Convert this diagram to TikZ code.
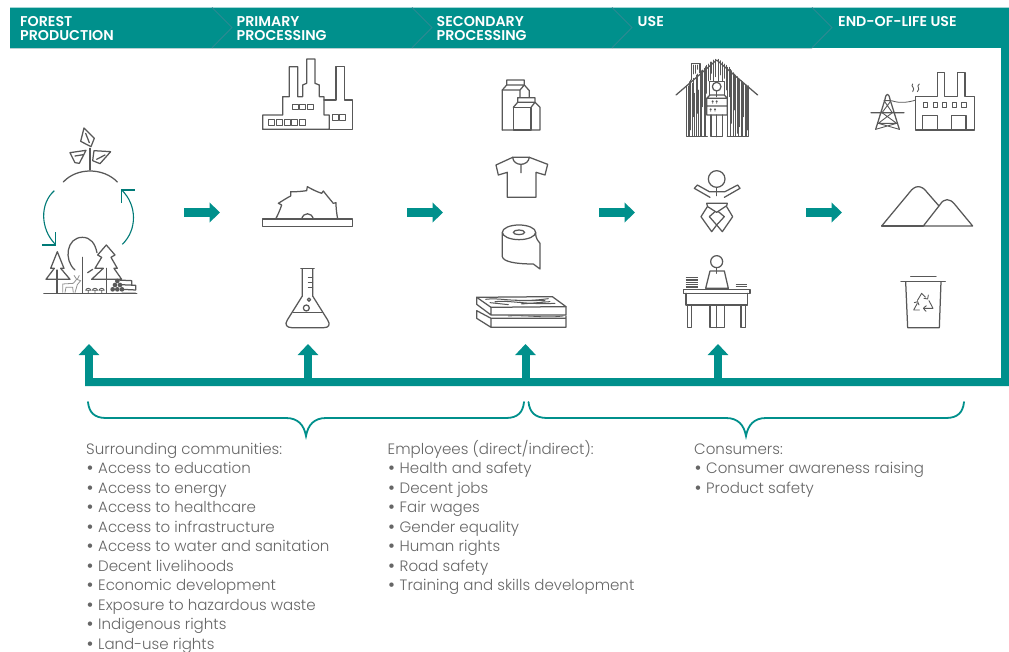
\documentclass[tikz,border=0pt]{standalone}
\usepackage{fontspec}
\setmainfont{Poppins Light}
\newfontfamily\headf{Poppins SemiBold}
\usetikzlibrary{arrows.meta}
\definecolor{teal0}{HTML}{00908C}
\definecolor{chev}{HTML}{2C8A92}
\definecolor{shad}{HTML}{B9CFD2}
\definecolor{ink}{HTML}{585858}
\definecolor{txt}{HTML}{666666}
\tikzset{
 icon/.style={draw=ink,line width=1.25pt,line join=round,line cap=round,fill=none},
 thin icon/.style={draw=ink,line width=.75pt,line cap=round},
 pale icon/.style={draw=ink!65,line width=.8pt,line join=round},
 z/.style={shift={(#1)},x=.3333pt,y=-.3333pt},
 flowarrow/.style={draw=teal0,line width=8.4pt,-{Triangle[width=19.5pt,length=10.5pt]}},
 upstem/.style={draw=teal0,line width=8pt,-{Triangle[width=20pt,length=11pt]}},
 brace/.style={draw=teal0,line width=1.8pt,line cap=round},
 cycle arc/.style={draw=teal0!85!black,line width=1.1pt},
 head/.style={anchor=base west,inner sep=0,text=white,font=\headf\fontsize{14.2}{14}\selectfont},
 body/.style={anchor=north west,inner sep=0,text=txt,align=left,font=\fontsize{15.05}{19.5}\selectfont},
}
\newcommand{\bl}{\makebox[12pt][l]{\hspace{.3pt}\raisebox{-.9pt}{\fontsize{19}{19}\selectfont •}}}
\newcommand{\fl}{\rule{0pt}{15pt}}
\begin{document}
\begin{tikzpicture}[x=1pt,y=-1pt]
\useasboundingbox (0,0) rectangle (1009,651);
\fill[white] (0,0) rectangle (1009,651);
% shadow and band
\draw[shad,line width=1.2pt] (10,48.6) -- (812,48.6);
\fill[teal0] (10,7.5) -- (1009,7.5) -- (1009,386) -- (85,386) -- (85,378) -- (1001,378) -- (1001,47.8) -- (10,47.8) -- cycle;
\foreach \x in {212,412,612,812}
  \draw[chev,line width=1pt] (\x,7.5) -- (\x+20,27.5) -- (\x,47.8);
% headers
\node[head] (h1a) at (20,26) {FOREST};
\node[head] (h1b) at (20,40) {PRODUCTION};
\node[head] (h2a) at (236.5,26) {PRIMARY};
\node[head] (h2b) at (236.5,40) {PROCESSING};
\node[head] (h3a) at (436.5,26) {SECONDARY};
\node[head] (h3b) at (436.5,40) {PROCESSING};
\node[head] (h4) at (637.5,26) {USE};
\node[head] (h5) at (838,26) {END-OF-LIFE USE};
% flow arrows
\foreach \n/\a in {a/184,b/407,c/599,d/806}{
  \coordinate (f\n s) at (\a,212.5);
  \coordinate (f\n e) at (\a+36,212.5);
  \draw[flowarrow] (f\n s) -- (f\n e);
}
% up arrows
\foreach \n/\a in {a/89,b/308,c/525.5,d/718}{
  \coordinate (u\n s) at (\a,380);
  \coordinate (u\n e) at (\a,344);
  \draw[upstem] (u\n s) -- (u\n e);
}
% braces
\coordinate (b1l) at (88,402); \coordinate (b1m) at (306,436); \coordinate (b1r) at (524,402);
\coordinate (b2l) at (528.5,402); \coordinate (b2m) at (746,436); \coordinate (b2r) at (964,402);
\draw[brace] (b1l) .. controls (89,412) and (94,418) .. (106,418) -- (286,418) .. controls (298,418) and (304,425) .. (b1m) .. controls (308,425) and (314,418) .. (326,418) -- (506,418) .. controls (518,418) and (523,412) .. (b1r);
\draw[brace] (b2l) .. controls (529.5,412) and (535,418) .. (547,418) -- (726,418) .. controls (738,418) and (744,425) .. (b2m) .. controls (748,425) and (754,418) .. (766,418) -- (946,418) .. controls (958,418) and (963,412) .. (b2r);
% texts
\node[body] (t1) at (86,439) {\fl Surrounding communities:\\ \bl Access to education\\ \bl Access to energy\\ \bl Access to healthcare\\ \bl Access to infrastructure\\ \bl Access to water and sanitation\\ \bl Decent livelihoods\\ \bl Economic development\\ \bl Exposure to hazardous waste\\ \bl Indigenous rights\\ \bl Land-use rights};
\node[body] (t2) at (387.5,439) {\fl Employees (direct/indirect):\\ \bl Health and safety\\ \bl Decent jobs\\ \bl Fair wages\\ \bl Gender equality\\ \bl Human rights\\ \bl Road safety\\ \bl Training and skills development};
\node[body] (t3) at (694,439) {\fl Consumers:\\ \bl Consumer awareness raising\\ \bl Product safety};
% forest icon
\begin{scope}[z={20,120}]
 \draw[icon] (192,24) -- (223,55) -- (213,80) -- (182,64) -- cycle (197,40) -- (208,68);
 \draw[icon] (150,98) -- (198,91) -- (178,130) -- (165,128) -- cycle (165,108) -- (190,104);
 \draw[icon] (272,95) -- (222,92) -- (218,122) -- (240,131) -- cycle (230,118) -- (255,105);
 \draw[icon] (210,85) -- (210,150);
 \draw[icon] (130,186) .. controls (170,142) and (250,142) .. (292,186);
 \draw[cycle arc] (103,212) .. controls (60,250) and (60,325) .. (105,372);
 \draw[cycle arc] (66,375) -- (106,375) -- (106,335);
 \draw[cycle arc] (307,373) .. controls (352,330) and (352,255) .. (305,210);
 \draw[cycle arc] (345,210) -- (304,210) -- (304,250);
 \draw[icon,line width=1.6pt] (72,521) -- (350,521);
 % tree 1
 \draw[icon] (78,478) -- (103,445) -- (92,445) -- (112,395) -- (132,445) -- (122,445) -- (150,478) (78,478) -- (150,478);
 \draw[icon] (111,450) -- (111,520);
 % round tree
 \draw[icon] (165,450) .. controls (130,420) and (140,352) .. (187,352) .. controls (212,352) and (225,370) .. (231,398);
 \draw[icon] (187,412) -- (187,520);
 % tree 2
 \draw[icon] (203,458) -- (218,448) (215,478) -- (250,445) -- (225,445) -- (245,412) -- (233,405) -- (259,375) -- (285,405) -- (273,412) -- (292,445) -- (282,445) -- (305,478) -- (215,478);
 \draw[icon] (259,445) -- (259,520);
 % deer
 \draw[pale icon] (128,518) -- (128,492) -- (160,490) -- (170,478) -- (182,482) -- (172,494) -- (165,518) (135,518) -- (138,502) -- (158,502) -- (160,518) (170,478) -- (162,466) (172,478) -- (178,466);
 % mushrooms
 \foreach \p in {205,225,245}{
  \draw[icon,line width=.8pt] (\p-8,511) .. controls (\p-6,503) and (\p+6,503) .. (\p+8,511) -- cycle (\p,511) -- (\p,520);
 }
 % logs
 \foreach \p/\q in {278/508,292/508,285/495,300/495,292/483,306/508}
  \fill[ink] (\p,\q) circle (7);
 \draw[icon] (292,480) -- (335,482) -- (335,496) (300,494) -- (347,496) -- (347,510) (306,508) -- (347,510) (306,520) -- (347,520);
\end{scope}
% factory (primary)
\begin{scope}[z={0,0}]
 \draw[icon] (788,388) -- (788,345) -- (848,345) -- (848,290) -- (868,290) -- (868,200) -- (893,200) -- (893,290) -- (908,290) -- (908,255) -- (920,250) -- (920,177) -- (945,177) -- (945,250) -- (958,255) -- (958,290) -- (972,290) -- (972,345) -- (988,345) -- (988,388) -- cycle;
 \draw[icon] (972,300) -- (1008,300) -- (1008,200) -- (1033,200) -- (1033,300) -- (1057,300) -- (1057,388) -- (988,388);
 \foreach \p in {876,899,922} \draw[icon,line width=.8pt] (\p,312) rectangle (\p+18,328);
 \foreach \p in {806,829,852,875,898} \draw[icon,line width=.8pt] (\p,358) rectangle (\p+18,376);
 \foreach \p in {998,1018} \draw[icon,line width=.8pt] (\p,343) rectangle (\p+17,360);
\end{scope}
% saw and flask
\begin{scope}[z={240,170}]
 \draw[icon] (68,147) rectangle (337,170);
 \draw[icon] (107,147) .. controls (114,134) and (120,120) .. (125,105) -- (115,100) .. controls (128,92) and (140,84) .. (152,78) -- (152,65) .. controls (168,66) and (185,64) .. (200,62) -- (202,50) .. controls (216,58) and (230,65) .. (245,70) -- (250,63) .. controls (260,76) and (270,88) .. (280,100) -- (288,98) .. controls (288,114) and (290,130) .. (293,147);
 \draw[icon] (185,147) .. controls (190,126) and (215,126) .. (220,147);
 \draw[icon,line width=1.6pt] (183,296) -- (222,296);
 \draw[icon] (187,296) -- (187,378) -- (142,450) .. controls (132,465) and (142,473) .. (155,473) -- (252,473) .. controls (265,473) and (273,465) .. (263,450) -- (218,378) -- (218,296);
 \draw[icon] (160,428) -- (247,428);
 \draw[icon,line width=.8pt] (205,322) -- (218,322) (205,338) -- (218,338) (205,352) -- (218,352);
 \draw[icon] (199,414) circle (9) (207,389) circle (5);
\end{scope}
% secondary icons
\begin{scope}[z={465,70}]
 % cartons
 \draw[icon] (112,180) -- (112,60) -- (125,45) -- (125,30) -- (178,30) -- (178,45) -- (193,62) -- (193,82);
 \draw[icon] (112,60) -- (165,60) -- (178,45) -- (125,45) (165,60) -- (165,82);
 \draw[icon] (145,112) rectangle (198,180);
 \draw[icon] (145,112) -- (158,97) -- (158,83) -- (210,83) -- (210,97) -- (225,112) -- (225,180) -- (112,180);
 \draw[icon] (158,97) -- (210,97) -- (198,112);
 % shirt
 \draw[icon] (143,262) -- (93,285) -- (100,315) -- (127,307) -- (127,382) -- (213,382) -- (213,307) -- (240,315) -- (248,283) -- (193,262) -- cycle;
 \draw[icon] (143,262) .. controls (145,290) and (190,290) .. (193,262) (168,283) -- (168,308);
 % roll
 \draw[icon] (162,487) ellipse (50 and 22);
 \draw[icon] (162,487) ellipse (17 and 7);
 \draw[icon] (112,487) -- (112,560) .. controls (115,575) and (150,582) .. (205,582) -- (225,597) -- (225,520) .. controls (222,512) and (212,512) .. (212,487);
 % planks
 \draw[icon] (35,682) -- (262,680) -- (303,710) -- (78,712) -- cycle;
 \draw[icon] (35,682) -- (35,703) -- (78,735) -- (303,735) -- (303,710) (78,712) -- (78,735);
 \draw[icon] (35,722) -- (35,745) -- (78,772) -- (303,772) -- (303,738) (35,722) -- (78,745) -- (303,745) (78,745) -- (78,772);
 \draw[icon,line width=1pt] (62,688) .. controls (110,682) and (150,700) .. (250,686) (90,695) .. controls (130,690) and (190,705) .. (270,700) (75,698) -- (130,704) (150,690) .. controls (180,695) and (210,690) .. (240,692) (170,702) -- (255,695);
 \draw[icon,line width=.8pt] (130,738) .. controls (190,735) and (240,745) .. (295,738);
\end{scope}
% house
\begin{scope}[z={665,50}]
 \foreach \x/\a/\b in {69/108/258,73/95/258,77/90/240,81/100/258,85/85/200,89/130/258,93/75/258,97/72/190,101/120/258,105/66/258,109/62/258,113/60/170,117/55/258,121/50/258,125/46/130,
 130/42/92,135/36/90,140/36/70,146/30/95,152/28/80,160/28/92,166/32/75,172/36/95,178/42/85,183/46/120,
 188/52/258,192/52/140,196/58/258,200/62/220,204/68/258,208/72/180,212/75/258,216/80/250,220/85/258,224/88/230,228/92/258,232/95/258,236/100/200,240/104/258,244/108/258,247/110/240}
   \draw[thin icon] (\x,\a) -- (\x,\b);
 \draw[thin icon] (85,45) -- (85,72) (92,45) -- (92,70) (98,45) -- (98,58);
 \draw[icon] (33,135) -- (155,30) -- (278,135);
 \draw[icon] (65,108) -- (65,260) -- (127,260) (250,108) -- (250,260) -- (187,260);
 \draw[icon] (80,90) -- (80,40) -- (105,40) -- (105,68);
 \fill[white] (133,95) rectangle (178,135);
 \fill[white] (127,135) rectangle (187,259);
 \draw[icon] (133,95) -- (178,95) (133,95) -- (133,135) (178,95) -- (178,135);
 \draw[icon] (155,110) circle (13);
 \draw[icon] (155,123) -- (155,140);
 \draw[icon] (125,145) -- (135,135) -- (178,135) -- (187,145) -- (187,195) -- (125,195) -- cycle (125,168) -- (187,168) (125,145) -- (187,145);
 \draw[icon] (138,195) -- (138,260) -- (172,260) -- (172,195) (155,195) -- (155,260);
 \foreach \p/\q in {143/152,155/152,137/176,150/176}
   \draw[icon,line width=.8pt] (\p,\q) -- (\p,\q+8) (\p-2,\q+3) -- (\p,\q) -- (\p+2,\q+3);
\end{scope}
% baby and desk
\begin{scope}[z={665,165}]
 \draw[icon] (155,42) circle (25);
 \draw[icon] (155,67) -- (155,92);
 \draw[icon] (135,97) -- (88,70) -- (97,60) -- (133,80) -- (180,80) -- (218,60) -- (225,70) -- (178,97);
 \draw[icon] (125,115) -- (187,115) -- (185,122) -- (155,142) -- (128,125) -- cycle;
 \draw[icon] (127,125) -- (108,155) -- (140,200) -- (155,180) -- (133,155) -- (150,140);
 \draw[icon] (185,125) -- (203,155) -- (172,200) -- (155,180) -- (178,155) -- (160,140);
 \draw[icon] (155,290) circle (18);
 \draw[icon] (155,308) -- (155,325);
 \draw[icon] (135,318) -- (178,318) -- (190,370) -- (122,370) -- cycle;
 \draw[icon] (55,373) rectangle (255,385);
 \draw[icon] (63,385) -- (63,420) -- (247,420) -- (247,385);
 \draw[icon] (68,420) -- (68,488) -- (80,488) -- (80,420);
 \draw[icon] (228,420) -- (228,488) -- (242,488) -- (242,420);
 \draw[icon] (135,420) -- (135,488) -- (178,488) -- (178,420) (155,420) -- (155,488);
 \foreach \q in {338,345,352,359,366} \draw[icon,line width=1.3pt,line cap=butt] (62,\q) -- (98,\q);
 \foreach \q in {358,365} \draw[icon,line width=1.3pt,line cap=butt] (212,\q) -- (247,\q);
\end{scope}
% end of life
\begin{scope}[z={860,60}]
 \draw[icon] (167,210) -- (167,110) -- (232,110) -- (232,38) -- (254,38) -- (254,110) -- (293,110) -- (293,38) -- (315,38) -- (315,110) -- (343,110) -- (343,210) -- cycle;
 \foreach \p in {190,219,247,276,305} \draw[icon,line width=.9pt] (\p,127) rectangle (\p+13,141);
 \draw[icon] (188,210) -- (188,167) -- (232,167) -- (232,210) (275,210) -- (275,167) -- (318,167) -- (318,210);
 \draw[icon,line width=.9pt] (158,72) .. controls (150,80) and (168,82) .. (158,95) (178,72) .. controls (166,80) and (184,84) .. (172,95);
 \draw[icon,line width=.8pt] (95,122) .. controls (115,130) and (145,128) .. (167,120);
 \draw[icon] (47,208) -- (75,118) .. controls (78,98) and (86,98) .. (90,118) -- (118,208) (33,158) -- (132,158);
 \draw[icon,line width=.9pt] (72,122) -- (93,122) (72,122) -- (97,158) (93,122) -- (66,158) (66,158) -- (110,190) (97,158) -- (55,190) (55,190) -- (110,190) (110,190) -- (47,208) (55,190) -- (118,208);
 % mountains
 \draw[icon] (65,498) -- (148,398) .. controls (165,374) and (185,374) .. (202,398) -- (237,438);
 \draw[icon] (190,498) -- (240,434) .. controls (252,414) and (270,414) .. (285,434) -- (338,498) -- cycle;
 \draw[icon] (65,498) -- (190,498);
 % bin
 \draw[icon] (152,650) -- (228,650) (123,665) -- (256,665);
 \draw[icon] (137,665) -- (143,803) -- (238,803) -- (243,665);
 \draw[icon,line width=.9pt,line cap=butt] (172,722) -- (185,700) -- (197,712);
 \draw[icon,line width=.9pt] (192,715) -- (203,717) -- (205,705);
 \draw[icon,line width=.9pt] (207,722) -- (219,745) -- (192,745);
 \draw[icon,line width=.9pt] (199,737) -- (190,745) -- (198,754);
 \draw[icon,line width=.9pt] (178,750) -- (161,750) -- (172,730);
 \draw[icon,line width=.9pt] (163,728) -- (173,725) -- (177,735);
\end{scope}
\end{tikzpicture}
\end{document}
